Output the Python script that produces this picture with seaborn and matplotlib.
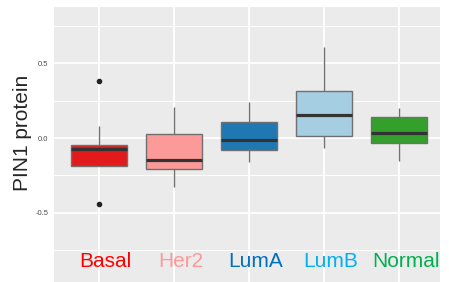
import numpy as np
import pandas as pd
import seaborn as sns
import matplotlib.pyplot as plt

sns.set_theme(style="darkgrid")
plt.rcParams["font.family"] = ["Liberation Sans", "DejaVu Sans"]

subtypes = ["Basal", "Her2", "LumA", "LumB", "Normal"]
basal = [-0.44, -0.186, -0.186, -0.13, -0.072, -0.06, -0.047, 0.078, 0.38]
her2 = [-0.331, -0.208, -0.146, 0.029, 0.206]
luma = [-0.159, -0.078, -0.013, 0.105, 0.244]
lumb = [-0.069, 0.011, 0.156, 0.315, 0.613]
normal = [-0.154, -0.036, 0.034, 0.143, 0.199]

box_colors = ["#E31A1C", "#FB9A99", "#1F78B4", "#A6CEE3", "#33A02C"]
label_colors = ["#FF0000", "#FF9999", "#0070C0", "#00B0F0", "#00B050"]
yticks = [-0.5, 0.0, 0.5]
ytick_labels = ["-0.5", "0.0", "0.5"]

# long form df
df = pd.concat([
    pd.DataFrame({"subtype": name, "PIN1": vals})
    for name, vals in zip(subtypes, [basal, her2, luma, lumb, normal])
])

fig = plt.figure(figsize=(4.49, 2.82), dpi=100)
ax = fig.add_axes([54 / 449, 0.0, (440 - 54) / 449, 1 - 7 / 282])
ax.set_facecolor("#EBEBEB")

sns.boxplot(data=df, x="subtype", y="PIN1", hue="subtype", order=subtypes,
            hue_order=subtypes, palette=dict(zip(subtypes, box_colors)),
            saturation=1, width=0.75, linewidth=1.0, linecolor="#707070",
            fliersize=3.0, legend=False, ax=ax,
            medianprops={"color": "#333333", "linewidth": 2.3},
            flierprops={"marker": "o", "markerfacecolor": "#222222",
                        "markeredgecolor": "#222222"},
            whiskerprops={"color": "#707070", "linewidth": 1.0},
            capprops={"linewidth": 0})

ax.set_xlim(-0.6, 4.55)
ax.set_ylim(-0.966, 0.879)

# ggplot-ish grid
ax.set_yticks(yticks)
ax.set_yticklabels(ytick_labels)
ax.set_yticks([-0.75, -0.25, 0.25, 0.75], minor=True)
ax.grid(True, which="major", color="white", linewidth=1.3)
ax.grid(True, which="minor", axis="y", color="white", linewidth=0.7)
ax.set_axisbelow(True)
for s in ax.spines.values():
    s.set_visible(False)

ax.tick_params(axis="y", which="major", length=2.5, width=0.6, color="#555555",
               labelsize=5.5, labelcolor="#4D4D4D", pad=1.5)
ax.tick_params(axis="y", which="minor", length=0)
ax.tick_params(axis="x", length=0, labelbottom=False)
ax.set_xlabel("")
ax.set_ylabel("PIN1 protein", fontsize=15)
ax.yaxis.set_label_coords(-0.058, 0.542)

# coloured subtype names inside the panel
for i, (name, c) in enumerate(zip(subtypes, label_colors)):
    ax.text(i + 0.09, -0.83, name, color=c, fontsize=15, ha="center", va="center")

fig.savefig("out.png", dpi=100)
